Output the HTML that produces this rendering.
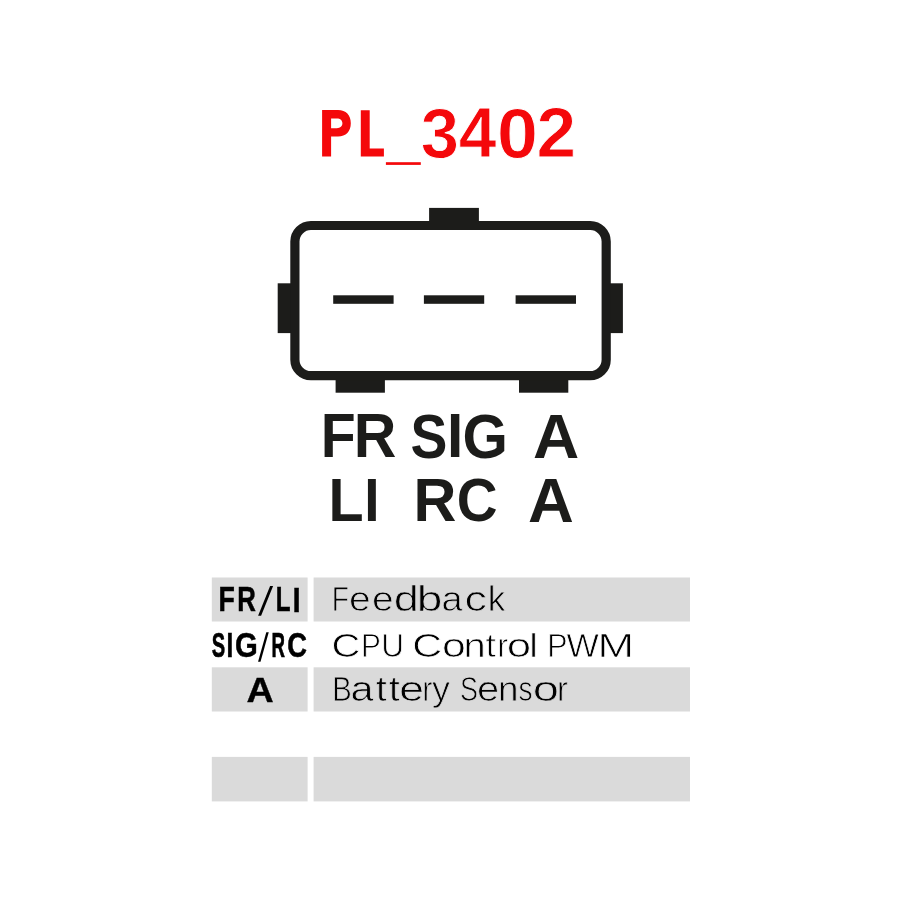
<!DOCTYPE html>
<html><head><meta charset="utf-8">
<style>
html,body{margin:0;padding:0;background:#fff;width:900px;height:900px;overflow:hidden}
svg{display:block;will-change:transform}
text{font-family:"Liberation Sans",sans-serif;font-size:100px}
</style></head>
<body>
<svg width="900" height="900" viewBox="0 0 900 900">
<rect width="900" height="900" fill="#fff"/>
<rect x="385.9" y="162.2" width="34.9" height="2.7" fill="#f4080b"/>
<path fill="#f4080b" fill-rule="evenodd" d="M322.1,110.1 H338 C346,110.1 350.8,115.2 350.8,123.3 C350.8,131.4 346,136.5 338,136.5 H331.1 V156.5 H322.1 Z M331.1,118.5 H336.8 C340.4,118.5 342.4,120.5 342.4,123.35 C342.4,126.2 340.4,128.2 336.8,128.2 H331.1 Z"/>
<path fill="#f4080b" d="M360.8,110.2 H369.7 V148.4 H383.9 V156.5 H360.8 Z"/>
<g fill="#1c1c1a">
<rect x="429.1" y="207.9" width="49.8" height="18"/>
<rect x="277.7" y="283.3" width="16" height="49.8"/>
<rect x="607" y="283.3" width="15.9" height="49.8"/>
<rect x="335.6" y="375" width="49.3" height="17.7"/>
<rect x="519" y="375" width="49.3" height="17.7"/>
<rect x="333.2" y="295.3" width="60.4" height="8.5"/>
<rect x="423.9" y="295.3" width="60.3" height="8.5"/>
<rect x="515.6" y="295.3" width="60.4" height="8.5"/>
</g>
<rect x="294.9" y="225.5" width="311.3" height="150.2" rx="16" ry="16" fill="none" stroke="#1c1c1a" stroke-width="9.2"/>
<g fill="#dadada">
<rect x="211.8" y="577.5" width="95.8" height="44"/>
<rect x="313.6" y="577.5" width="376.4" height="44"/>
<rect x="211.8" y="667.3" width="95.8" height="44.2"/>
<rect x="313.6" y="667.3" width="376.4" height="44.2"/>
<rect x="211.8" y="756.9" width="95.8" height="44.5"/>
<rect x="313.6" y="756.9" width="376.4" height="44.5"/>
</g>
<path fill="#000000" d="M270.1,586 H273.1 L261.1,615.8 H258.1 Z"/>
<path fill="#000000" d="M266.3,632.2 H268.75 L260.5,661.8 H258.05 Z"/>
<text transform="translate(420.67 157.55) scale(0.6880 0.7000)" font-weight="bold" fill="#f4080b" stroke="#ffffff" stroke-width="1.30">3</text>
<text transform="translate(458.70 157.25) scale(0.6774 0.7014)" font-weight="bold" fill="#f4080b" stroke="#ffffff" stroke-width="1.31">4</text>
<text transform="translate(497.11 157.55) scale(0.7362 0.7000)" font-weight="bold" fill="#f4080b" stroke="#ffffff" stroke-width="1.25">0</text>
<text transform="translate(536.41 157.25) scale(0.7122 0.6957)" font-weight="bold" fill="#f4080b" stroke="#ffffff" stroke-width="1.28">2</text>
<text transform="translate(320.70 456.80) scale(0.5720 0.6203)" font-weight="bold" fill="#1c1c1a">F</text>
<text transform="translate(353.67 456.80) scale(0.5905 0.6203)" font-weight="bold" fill="#1c1c1a">R</text>
<text transform="translate(410.44 457.86) scale(0.5533 0.6352)" font-weight="bold" fill="#1c1c1a">S</text>
<text transform="translate(447.10 457.00) scale(0.5857 0.6203)" font-weight="bold" fill="#1c1c1a">I</text>
<text transform="translate(462.56 457.86) scale(0.5838 0.6352)" font-weight="bold" fill="#1c1c1a">G</text>
<text transform="translate(532.98 458.03) scale(0.6409 0.6294)" font-weight="bold" fill="#1c1c1a">A</text>
<text transform="translate(328.38 520.80) scale(0.5745 0.6101)" font-weight="bold" fill="#1c1c1a">L</text>
<text transform="translate(364.35 520.80) scale(0.5500 0.6101)" font-weight="bold" fill="#1c1c1a">I</text>
<text transform="translate(413.44 520.90) scale(0.5937 0.6087)" font-weight="bold" fill="#1c1c1a">R</text>
<text transform="translate(456.64 520.59) scale(0.5646 0.6113)" font-weight="bold" fill="#1c1c1a">C</text>
<text transform="translate(527.90 521.73) scale(0.6348 0.6294)" font-weight="bold" fill="#1c1c1a">A</text>
<text transform="translate(218.40 611.45) scale(0.2673 0.3493)" font-weight="bold" fill="#000000" stroke="#000000" stroke-width="1.44">F</text>
<text transform="translate(237.20 611.45) scale(0.2577 0.3493)" font-weight="bold" fill="#000000" stroke="#000000" stroke-width="1.50">R</text>
<text transform="translate(275.75 611.45) scale(0.2415 0.3493)" font-weight="bold" fill="#000000" stroke="#000000" stroke-width="1.59">L</text>
<text transform="translate(292.44 611.80) scale(0.2937 0.3543)" font-weight="bold" fill="#000000" stroke="#000000" stroke-width="1.19">I</text>
<text transform="translate(211.80 657.12) scale(0.2016 0.3425)" font-weight="bold" fill="#000000" stroke="#000000" stroke-width="1.92">S</text>
<text transform="translate(226.54 657.25) scale(0.2438 0.3451)" font-weight="bold" fill="#000000" stroke="#000000" stroke-width="1.44">I</text>
<text transform="translate(234.92 657.12) scale(0.2928 0.3425)" font-weight="bold" fill="#000000" stroke="#000000" stroke-width="1.35">G</text>
<text transform="translate(271.58 657.25) scale(0.1864 0.3451)" font-weight="bold" fill="#000000" stroke="#000000" stroke-width="2.05">R</text>
<text transform="translate(287.18 657.21) scale(0.2731 0.3438)" font-weight="bold" fill="#000000" stroke="#000000" stroke-width="1.42">C</text>
<text transform="translate(246.45 701.70) scale(0.3765 0.3529)" font-weight="bold" fill="#000000" stroke="#000000" stroke-width="1.03">A</text>
<text transform="translate(331.85 611.40) scale(0.2816 0.3478)" font-weight="normal" fill="#000000" stroke="#dadada" stroke-width="2.54">F</text>
<text transform="translate(349.04 611.40) scale(0.3894 0.3478)" font-weight="normal" fill="#000000" stroke="#dadada" stroke-width="2.17">e</text>
<text transform="translate(372.04 611.40) scale(0.3894 0.3478)" font-weight="normal" fill="#000000" stroke="#dadada" stroke-width="2.17">e</text>
<text transform="translate(393.80 611.40) scale(0.4511 0.3478)" font-weight="normal" fill="#000000" stroke="#dadada" stroke-width="2.00">d</text>
<text transform="translate(416.67 611.40) scale(0.4614 0.3478)" font-weight="normal" fill="#000000" stroke="#dadada" stroke-width="1.98">b</text>
<text transform="translate(441.58 611.40) scale(0.3808 0.3478)" font-weight="normal" fill="#000000" stroke="#dadada" stroke-width="2.20">a</text>
<text transform="translate(464.50 611.40) scale(0.4488 0.3478)" font-weight="normal" fill="#000000" stroke="#dadada" stroke-width="2.01">c</text>
<text transform="translate(487.64 611.40) scale(0.3512 0.3478)" font-weight="normal" fill="#000000" stroke="#dadada" stroke-width="2.29">k</text>
<text transform="translate(331.50 657.00) scale(0.4000 0.3406)" font-weight="normal" fill="#000000" stroke="#ffffff" stroke-width="2.16">C</text>
<text transform="translate(361.12 657.00) scale(0.2981 0.3406)" font-weight="normal" fill="#000000" stroke="#ffffff" stroke-width="2.51">P</text>
<text transform="translate(381.27 657.00) scale(0.3161 0.3406)" font-weight="normal" fill="#000000" stroke="#ffffff" stroke-width="2.44">U</text>
<text transform="translate(412.23 657.00) scale(0.4143 0.3406)" font-weight="normal" fill="#000000" stroke="#ffffff" stroke-width="2.12">C</text>
<text transform="translate(441.89 657.00) scale(0.4277 0.3406)" font-weight="normal" fill="#000000" stroke="#ffffff" stroke-width="2.08">o</text>
<text transform="translate(463.50 657.00) scale(0.4000 0.3406)" font-weight="normal" fill="#000000" stroke="#ffffff" stroke-width="2.16">n</text>
<text transform="translate(485.55 657.00) scale(0.3760 0.3406)" font-weight="normal" fill="#000000" stroke="#ffffff" stroke-width="2.23">t</text>
<text transform="translate(497.33 657.00) scale(0.3240 0.3406)" font-weight="normal" fill="#000000" stroke="#ffffff" stroke-width="2.41">r</text>
<text transform="translate(506.85 657.00) scale(0.4383 0.3406)" font-weight="normal" fill="#000000" stroke="#ffffff" stroke-width="2.05">o</text>
<text transform="translate(529.18 657.00) scale(0.3889 0.3406)" font-weight="normal" fill="#000000" stroke="#ffffff" stroke-width="2.19">l</text>
<text transform="translate(547.17 657.00) scale(0.3038 0.3406)" font-weight="normal" fill="#000000" stroke="#ffffff" stroke-width="2.48">P</text>
<text transform="translate(566.46 657.00) scale(0.3430 0.3406)" font-weight="normal" fill="#000000" stroke="#ffffff" stroke-width="2.34">W</text>
<text transform="translate(597.48 657.00) scale(0.4403 0.3406)" font-weight="normal" fill="#000000" stroke="#ffffff" stroke-width="2.05">M</text>
<text transform="translate(332.16 701.30) scale(0.2925 0.3435)" font-weight="normal" fill="#000000" stroke="#dadada" stroke-width="2.52">B</text>
<text transform="translate(350.54 701.30) scale(0.4154 0.3435)" font-weight="normal" fill="#000000" stroke="#dadada" stroke-width="2.11">a</text>
<text transform="translate(375.80 701.30) scale(0.4000 0.3435)" font-weight="normal" fill="#000000" stroke="#dadada" stroke-width="2.15">t</text>
<text transform="translate(388.70 701.30) scale(0.4000 0.3435)" font-weight="normal" fill="#000000" stroke="#dadada" stroke-width="2.15">t</text>
<text transform="translate(399.31 701.30) scale(0.4468 0.3435)" font-weight="normal" fill="#000000" stroke="#dadada" stroke-width="2.02">e</text>
<text transform="translate(422.17 701.30) scale(0.3040 0.3435)" font-weight="normal" fill="#000000" stroke="#dadada" stroke-width="2.47">r</text>
<text transform="translate(432.10 701.30) scale(0.3600 0.3435)" font-weight="normal" fill="#000000" stroke="#dadada" stroke-width="2.27">y</text>
<text transform="translate(459.95 701.30) scale(0.2702 0.3435)" font-weight="normal" fill="#000000" stroke="#dadada" stroke-width="2.61">S</text>
<text transform="translate(477.00 701.30) scale(0.4000 0.3435)" font-weight="normal" fill="#000000" stroke="#dadada" stroke-width="2.15">e</text>
<text transform="translate(498.02 701.30) scale(0.3690 0.3435)" font-weight="normal" fill="#000000" stroke="#dadada" stroke-width="2.25">n</text>
<text transform="translate(518.46 701.30) scale(0.2814 0.3435)" font-weight="normal" fill="#000000" stroke="#dadada" stroke-width="2.56">s</text>
<text transform="translate(532.72 701.30) scale(0.4702 0.3435)" font-weight="normal" fill="#000000" stroke="#dadada" stroke-width="1.97">o</text>
<text transform="translate(557.03 701.30) scale(0.3240 0.3435)" font-weight="normal" fill="#000000" stroke="#dadada" stroke-width="2.40">r</text>
</svg>
</body></html>
